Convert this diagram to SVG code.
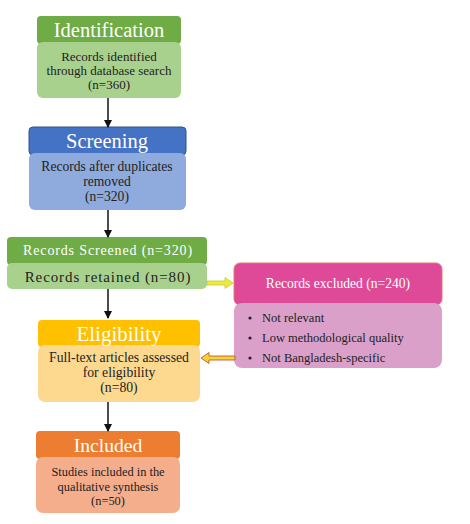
<svg xmlns="http://www.w3.org/2000/svg" width="470" height="524" viewBox="0 0 470 524">
<style>
text{font-family:"Liberation Serif","Times New Roman",serif;text-anchor:middle}
.h{fill:#fff}
.b{fill:#222}
.w{fill:#fff}
.l{text-anchor:start}
.conn line{stroke:#111;stroke-width:1.5}
</style>
<defs>
<marker id="ah" markerWidth="8" markerHeight="8" refX="7" refY="4" orient="auto" markerUnits="userSpaceOnUse"><path d="M0,0 L8,4 L0,8 z" fill="#111"/></marker>
</defs>
<rect width="470" height="524" fill="#fff"/>
<g id="identification">
<rect x="37" y="16" width="144" height="28" rx="4" fill="#6fac46"/>
<rect x="37" y="42" width="144" height="56" rx="6" fill="#a9d18e"/>
<text class="h" x="109" y="37" font-size="20.5">Identification</text>
<text class="b" x="109" y="61" font-size="13">Records identified</text>
<text class="b" x="109" y="75" font-size="13">through database search</text>
<text class="b" x="109" y="89" font-size="13">(n=360)</text>
</g>
<g id="screening">
<rect x="29" y="127" width="157" height="28" rx="4" fill="#4472c4" stroke="#2f528f" stroke-width="1"/>
<rect x="29" y="153" width="157" height="57" rx="6" fill="#8faadc"/>
<text class="h" x="107" y="148" font-size="20.5">Screening</text>
<text class="b" x="107" y="171" font-size="13.6">Records after duplicates</text>
<text class="b" x="107" y="186" font-size="13.6">removed</text>
<text class="b" x="107" y="201" font-size="13.6">(n=320)</text>
</g>
<g id="records-screened">
<rect x="7" y="237" width="200" height="28" rx="4" fill="#6fac46"/>
<rect x="7" y="263" width="200" height="26" rx="5" fill="#a9d18e"/>
<text class="w" x="108" y="255" font-size="14" letter-spacing="0.85">Records Screened (n=320)</text>
<text class="b" x="108" y="282" font-size="15" letter-spacing="0.9">Records retained (n=80)</text>
</g>
<g id="records-excluded">
<rect x="234" y="263" width="208" height="42" rx="6" fill="#de4a98" stroke="#e07a70" stroke-width="1"/>
<rect x="234" y="303" width="208" height="65" rx="8" fill="#dba0c9"/>
<text class="w" x="338" y="288" font-size="13.6">Records excluded (n=240)</text>
<circle cx="250" cy="318" r="1.6" fill="#222"/>
<circle cx="250" cy="338" r="1.6" fill="#222"/>
<circle cx="250" cy="358" r="1.6" fill="#222"/>
<text class="b l" x="262" y="322" font-size="12.5">Not relevant</text>
<text class="b l" x="262" y="342" font-size="12.5">Low methodological quality</text>
<text class="b l" x="262" y="362" font-size="12.5">Not Bangladesh-specific</text>
</g>
<g id="eligibility">
<rect x="38" y="320" width="162" height="27" rx="4" fill="#ffc000"/>
<rect x="38" y="345" width="162" height="57" rx="7" fill="#fdd98f"/>
<text class="h" x="119" y="341" font-size="21">Eligibility</text>
<text class="b" x="119" y="362" font-size="13.7">Full-text articles assessed</text>
<text class="b" x="119" y="377" font-size="13.7">for eligibility</text>
<text class="b" x="119" y="392" font-size="13.7">(n=80)</text>
</g>
<g id="included">
<rect x="36" y="431" width="144" height="28" rx="4" fill="#ed7d31"/>
<rect x="36" y="457" width="144" height="56" rx="7" fill="#f4ae8c"/>
<text class="h" x="108" y="452" font-size="19.6">Included</text>
<text class="b" x="108" y="476" font-size="12.4">Studies included in the</text>
<text class="b" x="108" y="491" font-size="12.4">qualitative synthesis</text>
<text class="b" x="108" y="505" font-size="12.4">(n=50)</text>
</g>
<g class="conn">
<line x1="108" y1="98" x2="108" y2="127" marker-end="url(#ah)"/>
<line x1="108" y1="210" x2="108" y2="237" marker-end="url(#ah)"/>
<line x1="108" y1="289" x2="108" y2="318" marker-end="url(#ah)"/>
<line x1="108" y1="402" x2="108" y2="431" marker-end="url(#ah)"/>
<path d="M207,281 L225,281 L225,277.5 L233,283 L225,288.5 L225,285 L207,285 z" fill="#f5e63a" stroke="#b8d040" stroke-width="0.8"/>
<path d="M235,356 L209,356 L209,352.5 L201,358 L209,363.5 L209,360 L235,360 z" fill="#f5d43a" stroke="#b04a2a" stroke-width="0.8"/>
</g>
</svg>
